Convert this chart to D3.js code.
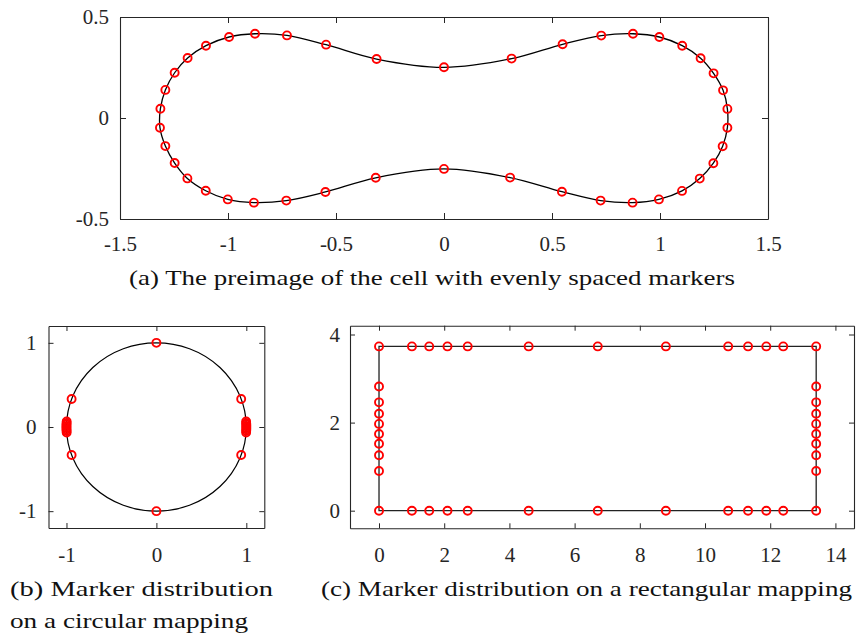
<!DOCTYPE html>
<html>
<head>
<meta charset="utf-8">
<script src="https://cdn.jsdelivr.net/npm/d3@7"></script>
</head>
<body style="margin:0;background:#fff">
<script>
// (a) preimage boundary with evenly spaced markers (closed loop, clockwise from top centre)
const preimageX = [0, 0.313, 0.549, 0.728, 0.875, 0.997, 1.103, 1.188, 1.248, 1.292, 1.312,
  1.312, 1.290, 1.247, 1.184, 1.102, 0.995, 0.873, 0.725, 0.546, 0.306,
  0, -0.316, -0.549, -0.730, -0.880, -1.001, -1.103, -1.188, -1.247, -1.290, -1.315,
  -1.313, -1.290, -1.247, -1.187, -1.102, -0.995, -0.875, -0.727, -0.546, -0.312];
const preimageY = [0.251, 0.294, 0.365, 0.408, 0.417, 0.401, 0.358, 0.296, 0.221, 0.137, 0.045,
  -0.048, -0.140, -0.224, -0.300, -0.361, -0.403, -0.419, -0.409, -0.365, -0.295,
  -0.252, -0.296, -0.366, -0.409, -0.419, -0.403, -0.360, -0.299, -0.223, -0.139, -0.048,
  0.046, 0.139, 0.224, 0.297, 0.358, 0.401, 0.417, 0.409, 0.363, 0.292];
const ticksAX = [-1.5, -1, -0.5, 0, 0.5, 1, 1.5];
const ticksAY = [-0.5, 0, 0.5];

// (b) markers on the unit circle
const circleRadius = 1;
const circleMarkX = [0, 0, -0.943, -0.943, 0.943, 0.943,
  -0.998, -0.999, -1.0, -1.0, -1.0, -1.0, -0.999, -0.998,
  0.998, 0.999, 1.0, 1.0, 1.0, 1.0, 0.999, 0.998];
const circleMarkY = [1, -1, 0.333, -0.333, 0.333, -0.333,
  0.065, 0.045, 0.028, 0.009, -0.009, -0.028, -0.045, -0.065,
  0.065, 0.045, 0.028, 0.009, -0.009, -0.028, -0.045, -0.065];
const ticksB = [-1, 0, 1];

// (c) markers on the rectangle
const rectCornerX = [0, 13.41, 13.41, 0];
const rectCornerY = [0, 0, 3.73, 3.73];
const rectEdgeX = [0, 1.01, 1.54, 2.10, 2.72, 4.59, 6.71, 8.80, 10.71, 11.32, 11.88, 12.40, 13.41];
const rectSideY = [0.90, 1.26, 1.52, 1.74, 1.97, 2.20, 2.46, 2.82];
const ticksCX = [0, 2, 4, 6, 8, 10, 12, 14];
const ticksCY = [0, 2, 4];

const W = 857, H = 637;
const axisColor = "#262626";
const markerColor = "#ff0000";
const serif = "Liberation Serif";

const svg = d3.select("body").append("svg").attr("width", W).attr("height", H).style("display", "block");
svg.append("rect").attr("width", W).attr("height", H).attr("fill", "#fff");

// Box-style axes with inward ticks on all four sides
function boxAxes(g, x, y, xt, yt, tick, padX, padY) {
  const [x0, x1] = x.range();
  const [y0, y1] = y.range();
  const style = sel => {
    sel.attr("font-family", serif).attr("font-size", 21);
    sel.selectAll("path.domain").attr("stroke", axisColor).attr("stroke-width", 1.1).attr("fill", "none");
    sel.selectAll(".tick line").attr("stroke", axisColor).attr("stroke-width", 1);
    sel.selectAll(".tick text").attr("font-family", serif).attr("font-size", 21).attr("fill", axisColor);
  };
  g.append("g").attr("transform", `translate(0,${y0})`)
    .call(d3.axisBottom(x).tickValues(xt).tickSizeInner(-tick).tickSizeOuter(0).tickPadding(padX).tickFormat(d => String(d)))
    .call(style);
  g.append("g").attr("transform", `translate(0,${y1})`)
    .call(d3.axisTop(x).tickValues(xt).tickSizeInner(-tick).tickSizeOuter(0).tickFormat(""))
    .call(style);
  g.append("g").attr("transform", `translate(${x0},0)`)
    .call(d3.axisLeft(y).tickValues(yt).tickSizeInner(-tick).tickSizeOuter(0).tickPadding(padY).tickFormat(d => String(d)))
    .call(style);
  g.append("g").attr("transform", `translate(${x1},0)`)
    .call(d3.axisRight(y).tickValues(yt).tickSizeInner(-tick).tickSizeOuter(0).tickFormat(""))
    .call(style);
}

function markers(g, xs, ys, x, y) {
  g.append("g").selectAll("circle").data(xs.map((v, i) => [v, ys[i]])).join("circle")
    .attr("cx", d => x(d[0])).attr("cy", d => y(d[1])).attr("r", 4)
    .attr("fill", "none").attr("stroke", markerColor).attr("stroke-width", 1.9);
}

function caption(lines, x0, x1s, y0, lh) {
  lines.forEach((t, i) => {
    svg.append("text")
      .attr("font-family", serif).attr("font-size", 22)
      .attr("fill", "#111")
      .attr("x", x0).attr("y", y0 + i * lh)
      .attr("textLength", x1s[i] - x0).attr("lengthAdjust", "spacingAndGlyphs")
      .text(t);
  });
}

// ---- (a) ----
{
  const x = d3.scaleLinear().domain([-1.5, 1.5]).range([120, 768]);
  const y = d3.scaleLinear().domain([-0.5, 0.5]).range([219, 17]);
  const g = svg.append("g");
  const pts = preimageX.map((v, i) => [x(v), y(preimageY[i])]);
  g.append("path").attr("d", d3.line().curve(d3.curveCatmullRomClosed.alpha(0.5))(pts))
    .attr("fill", "none").attr("stroke", "#000").attr("stroke-width", 1.3);
  markers(g, preimageX, preimageY, x, y);
  boxAxes(g, x, y, ticksAX, ticksAY, 6, 17, 11);
  caption(["(a) The preimage of the cell with evenly spaced markers"], 129, [735], 285, 0);
}

// ---- (b) ----
{
  const x = d3.scaleLinear().domain([-1.2, 1.2]).range([48.5, 264.3]);
  const y = d3.scaleLinear().domain([-1.2, 1.2]).range([528, 326]);
  const g = svg.append("g");
  g.append("ellipse")
    .attr("cx", x(0)).attr("cy", y(0))
    .attr("rx", x(circleRadius) - x(0)).attr("ry", y(0) - y(circleRadius))
    .attr("fill", "none").attr("stroke", "#000").attr("stroke-width", 1.2);
  markers(g, circleMarkX, circleMarkY, x, y);
  boxAxes(g, x, y, ticksB, ticksB, 5, 19, 12);
  caption(["(b)  Marker  distribution", "on a circular mapping"], 10, [273, 248], 596, 31.5);
}

// ---- (c) ----
{
  const x = d3.scaleLinear().domain([-0.89, 14.57]).range([350, 854]);
  const y = d3.scaleLinear().domain([-0.4, 4.2]).range([528.3, 325.7]);
  const g = svg.append("g");
  const corners = rectCornerX.map((v, i) => [x(v), y(rectCornerY[i])]);
  g.append("path").attr("d", d3.line()(corners) + "Z")
    .attr("fill", "none").attr("stroke", "#222").attr("stroke-width", 1.3);
  const top = rectCornerY[2], bottom = rectCornerY[0];
  const left = rectCornerX[0], right = rectCornerX[1];
  markers(g, rectEdgeX, rectEdgeX.map(() => top), x, y);
  markers(g, rectEdgeX, rectEdgeX.map(() => bottom), x, y);
  markers(g, rectSideY.map(() => left), rectSideY, x, y);
  markers(g, rectSideY.map(() => right), rectSideY, x, y);
  boxAxes(g, x, y, ticksCX, ticksCY, 5, 19, 10);
  caption(["(c) Marker distribution on a rectangular mapping"], 321, [852], 596, 0);
}
</script>
</body>
</html>
